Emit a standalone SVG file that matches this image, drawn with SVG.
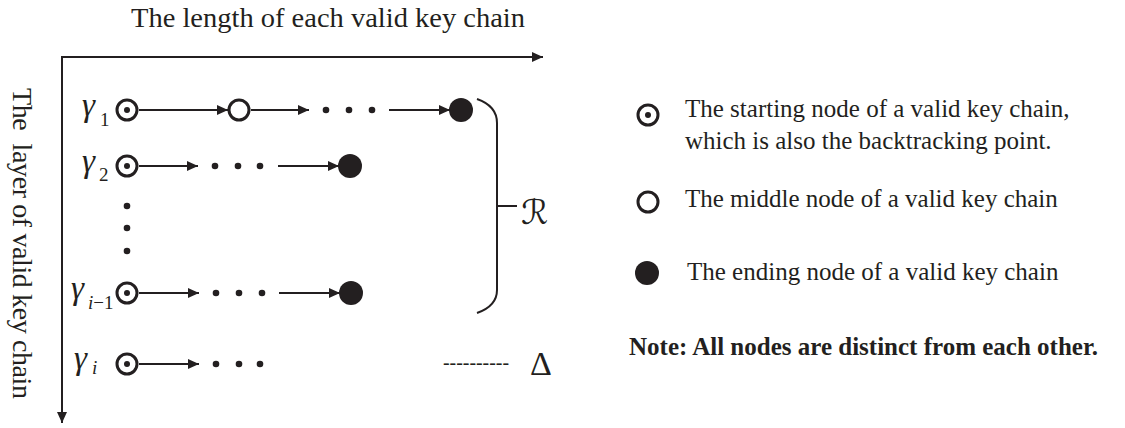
<svg xmlns="http://www.w3.org/2000/svg" width="1125" height="428" viewBox="0 0 1125 428">
<style>
text{font-family:"Liberation Serif","Times New Roman",serif;fill:#231f20}
.t28{font-size:28px}
.t25{font-size:25px}
.g{font-style:italic;font-size:33px}
.sub{font-size:19px}
.ln{stroke:#231f20;stroke-width:2;fill:none}
.start{fill:#fff;stroke:#231f20;stroke-width:3}
.mid{fill:#fff;stroke:#231f20;stroke-width:3}
.end{fill:#231f20}
.dot{fill:#231f20}
</style>
<defs>
<marker id="arr" viewBox="0 0 11 10" refX="11" refY="5" markerWidth="11" markerHeight="10" markerUnits="userSpaceOnUse" orient="auto">
<path d="M0,0 L11,5 L0,10 z" fill="#231f20"/>
</marker>
</defs>

<g id="axes">
<line class="ln" x1="62" y1="57" x2="543" y2="57" marker-end="url(#arr)"/>
<line class="ln" x1="62" y1="56" x2="62" y2="423" marker-end="url(#arr)"/>
<text class="t28" x="131" y="27" textLength="394" lengthAdjust="spacingAndGlyphs">The length of each valid key chain</text>
<text class="t28" transform="translate(13,88) rotate(90)" style="white-space:pre" textLength="311" lengthAdjust="spacing">The  layer of valid key chain</text>
</g>

<g id="connectors">
<line class="ln" x1="139" y1="110" x2="228" y2="110" marker-end="url(#arr)"/>
<line class="ln" x1="251" y1="110" x2="309" y2="110" marker-end="url(#arr)"/>
<line class="ln" x1="389" y1="110" x2="450" y2="110" marker-end="url(#arr)"/>
<line class="ln" x1="139" y1="166" x2="198" y2="166" marker-end="url(#arr)"/>
<line class="ln" x1="278" y1="166" x2="339" y2="166" marker-end="url(#arr)"/>
<line class="ln" x1="139" y1="293" x2="199" y2="293" marker-end="url(#arr)"/>
<line class="ln" x1="279" y1="293" x2="340" y2="293" marker-end="url(#arr)"/>
<line class="ln" x1="139" y1="364" x2="199" y2="364" marker-end="url(#arr)"/>
</g>

<g id="row1">
<text class="g" x="82" y="116">γ</text><text class="sub" x="100" y="126">1</text>
<circle class="start" cx="127" cy="110" r="10"/><circle class="dot" cx="127" cy="110" r="3"/>
<circle class="mid" cx="239" cy="110" r="10"/>
<circle class="dot" cx="326" cy="110" r="3.3"/><circle class="dot" cx="349" cy="110" r="3.3"/><circle class="dot" cx="372" cy="110" r="3.3"/>
<circle class="end" cx="461" cy="110" r="12"/>
</g>

<g id="row2">
<text class="g" x="82" y="172">γ</text><text class="sub" x="99" y="181">2</text>
<circle class="start" cx="127" cy="166" r="10"/><circle class="dot" cx="127" cy="166" r="3"/>
<circle class="dot" cx="215" cy="166" r="3.3"/><circle class="dot" cx="238" cy="166" r="3.3"/><circle class="dot" cx="260" cy="166" r="3.3"/>
<circle class="end" cx="350" cy="166" r="12"/>
</g>

<g id="vdots">
<circle class="dot" cx="127" cy="206" r="3.3"/>
<circle class="dot" cx="127" cy="228" r="3.3"/>
<circle class="dot" cx="127" cy="251" r="3.3"/>
</g>

<g id="row-im1">
<text class="g" x="71" y="299">γ</text><text class="sub" x="88" y="309" font-size="18"><tspan font-style="italic">i</tspan>−1</text>
<circle class="start" cx="127" cy="293" r="10"/><circle class="dot" cx="127" cy="293" r="3"/>
<circle class="dot" cx="216" cy="293" r="3.3"/><circle class="dot" cx="239" cy="293" r="3.3"/><circle class="dot" cx="262" cy="293" r="3.3"/>
<circle class="end" cx="351" cy="293" r="12"/>
</g>

<g id="row-i">
<text class="g" x="74" y="369">γ</text><text class="sub" x="92" y="374" font-style="italic">i</text>
<circle class="start" cx="127" cy="364" r="10"/><circle class="dot" cx="127" cy="364" r="3"/>
<circle class="dot" cx="216" cy="364" r="3.3"/><circle class="dot" cx="239" cy="364" r="3.3"/><circle class="dot" cx="260" cy="364" r="3.3"/>
</g>

<g id="bracket">
<path class="ln" d="M477,99 Q497,106 497,123 L497,290 Q497,306 477,313"/>
<line class="ln" x1="497" y1="206" x2="517" y2="206"/>
<text x="521" y="224" style="font-family:'DejaVu Serif','DejaVu Sans',serif;font-size:34px">ℛ</text>
</g>

<g id="delta">
<text x="443" y="369" style="font-size:20px" textLength="66" lengthAdjust="spacingAndGlyphs">----------</text>
<text x="530" y="375" style="font-size:34px">Δ</text>
</g>

<g id="legend">
<circle class="start" cx="648" cy="115" r="10"/><circle class="dot" cx="648" cy="115" r="3"/>
<text class="t25" x="685" y="117">The starting node of a valid key chain,</text>
<text class="t25" x="685" y="149">which is also the backtracking point.</text>
<circle class="mid" cx="648" cy="202" r="10"/>
<text class="t25" x="685" y="207">The middle node of a valid key chain</text>
<circle class="end" cx="647" cy="273" r="12"/>
<text class="t25" x="687" y="280">The ending node of a valid key chain</text>
<text class="t25" x="629" y="355" font-weight="bold">Note: All nodes are distinct from each other.</text>
</g>
</svg>
